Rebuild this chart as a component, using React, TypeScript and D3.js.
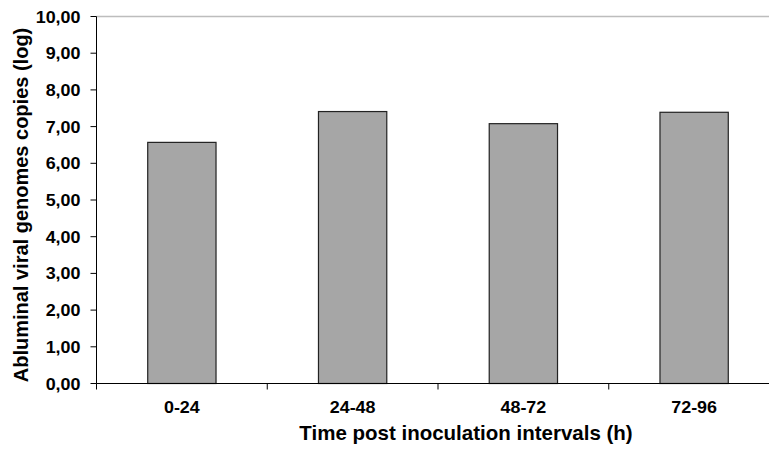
import React from "react";
import * as d3 from "d3";

const categories = ["0-24", "24-48", "48-72", "72-96"];
const values = [6.57, 7.41, 7.08, 7.39];
const yTicks = [0, 1, 2, 3, 4, 5, 6, 7, 8, 9, 10];

export default function App() {
  const W = 769, H = 453;
  const left = 96.5, right = 779.5, top = 16.5, bottom = 383.5;
  const x = d3.scaleBand().domain(categories).range([left, right]).paddingInner(0.6).paddingOuter(0.3);
  const xOuter = d3.scaleBand().domain(categories).range([left, right]);
  const y = d3.scaleLinear().domain([0, 10]).range([bottom, top]);
  const font = "'Liberation Sans', Arial, sans-serif";
  const fmt = (v: number) => v.toFixed(2).replace(".", ",");
  return (
    <svg width={W} height={H} style={{ position: "absolute", left: 0, top: 0, background: "#fff" }}>
      <line x1={left} x2={W} y1={top} y2={top} stroke="#bdbdbd" strokeWidth={1.5} />
      {categories.map((c, i) => (
        <rect key={c} x={x(c)!} y={y(values[i])} width={x.bandwidth()} height={bottom - y(values[i])}
          fill="#a6a6a6" stroke="#222" strokeWidth={1.2} />
      ))}
      <line x1={left} x2={W} y1={bottom} y2={bottom} stroke="#000" strokeWidth={1} />
      <line x1={left} x2={left} y1={top} y2={bottom} stroke="#000" strokeWidth={1} />
      {yTicks.map((t) => (
        <g key={t}>
          <line x1={left - 6} x2={left} y1={y(t)} y2={y(t)} stroke="#000" />
          <text transform={`translate(80.5,${y(t) + 6}) scale(1.12,1)`} textAnchor="end" fontFamily={font} fontWeight="bold" fontSize={16} fill="#000">{fmt(t)}</text>
        </g>
      ))}
      {categories.map((c, i) => (
        <g key={c}>
          <line x1={xOuter(c)!} x2={xOuter(c)!} y1={bottom} y2={bottom + 6} stroke="#000" />
          <text transform={`translate(${x(c)! + x.bandwidth() / 2},412.7) scale(1.12,1)`} textAnchor="middle" fontFamily={font} fontWeight="bold" fontSize={16} fill="#000">{c}</text>
        </g>
      ))}
      <text x={466} y={440} textAnchor="middle" fontFamily={font} fontWeight="bold" fontSize={20.5} fill="#000">Time post inoculation intervals (h)</text>
      <text transform={`translate(28,205) rotate(-90)`} textAnchor="middle" fontFamily={font} fontWeight="bold" fontSize={20} fill="#000">Abluminal viral genomes copies (log)</text>
    </svg>
  );
}
